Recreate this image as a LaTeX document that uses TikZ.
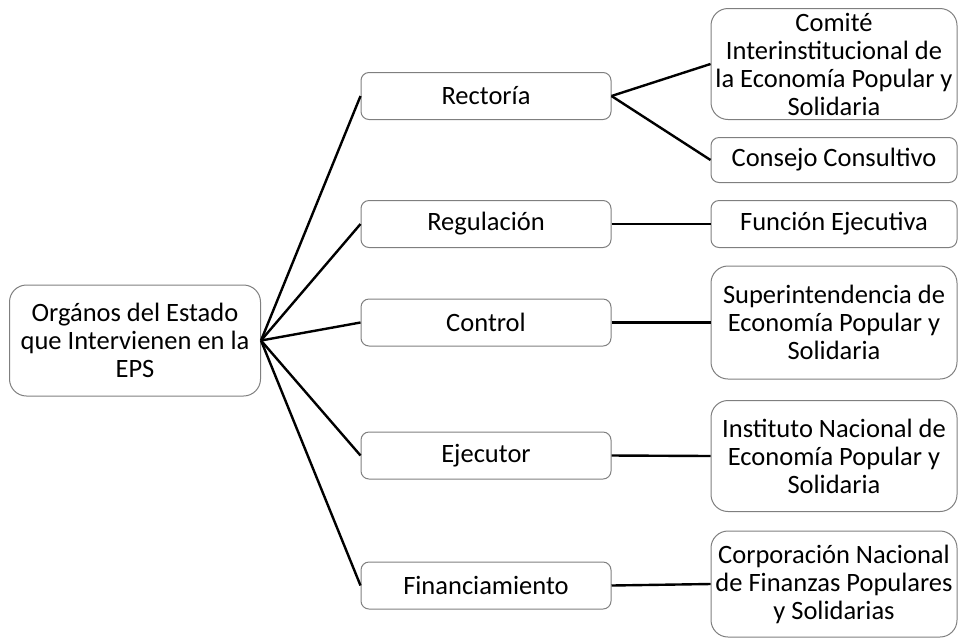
\documentclass[tikz,border=0pt]{standalone}
\usepackage{fontspec}
\setmainfont{Carlito}
\begin{document}
\begin{tikzpicture}[x=1pt,y=-1pt,
  box/.style={draw=boxgray, line width=1pt, rounded corners=8pt, align=center,
    inner sep=0pt, font=\fontsize{26.5}{28}\selectfont, text=black},
  bigbox/.style={box, rounded corners=17pt},
  link/.style={draw=black, line width=2.4pt}]
\definecolor{boxgray}{HTML}{7F7F7F}
\useasboundingbox (0,0) rectangle (960,641);
% root
\node[bigbox, minimum width=251pt, minimum height=111pt] (root) at (135,340.5)
  {Orgános del Estado\\que Intervienen en la\\EPS};
% level 2
\node[box, minimum width=250pt, minimum height=47pt] (rect) at (486,96) {Rectoría};
\node[box, minimum width=250pt, minimum height=47pt] (reg) at (486,224) {Regulación};
\node[box, minimum width=250pt, minimum height=47pt] (ctrl) at (486,322.5) {Control};
\node[box, minimum width=250pt, minimum height=47pt] (ejec) at (486,455.5) {Ejecutor};
\node[box, minimum width=250pt, minimum height=47pt] (fin) at (486,585.5) {Financiamiento};
% level 3
\node[bigbox, minimum width=246pt, minimum height=111pt] (comite) at (834,64)
  {Comité\\Interinstitucional de\\la Economía Popular y\\Solidaria};
\node[box, minimum width=246pt, minimum height=45pt] (consejo) at (834,160) {Consejo Consultivo};
\node[box, minimum width=246pt, minimum height=47pt] (funcion) at (834,224) {Función Ejecutiva};
\node[bigbox, minimum width=246pt, minimum height=113pt] (super) at (834,322.5)
  {Superintendencia de\\Economía Popular y\\Solidaria};
\node[bigbox, minimum width=246pt, minimum height=111pt] (inst) at (834,456)
  {Instituto Nacional de\\Economía Popular y\\Solidaria};
\node[bigbox, minimum width=246pt, minimum height=106pt] (corp) at (834,584)
  {Corporación Nacional\\de Finanzas Populares\\y Solidarias};
% connectors
\foreach \n in {rect,reg,ctrl,ejec,fin} \draw[link] (root.east) -- (\n.west);
\draw[link] (rect.east) -- (comite.west);
\draw[link] (rect.east) -- (consejo.west);
\draw[link] (reg.east) -- (funcion.west);
\draw[link] (ctrl.east) -- (super.west);
\draw[link] (ejec.east) -- (inst.west);
\draw[link] (fin.east) -- (corp.west);
\end{tikzpicture}
\end{document}
